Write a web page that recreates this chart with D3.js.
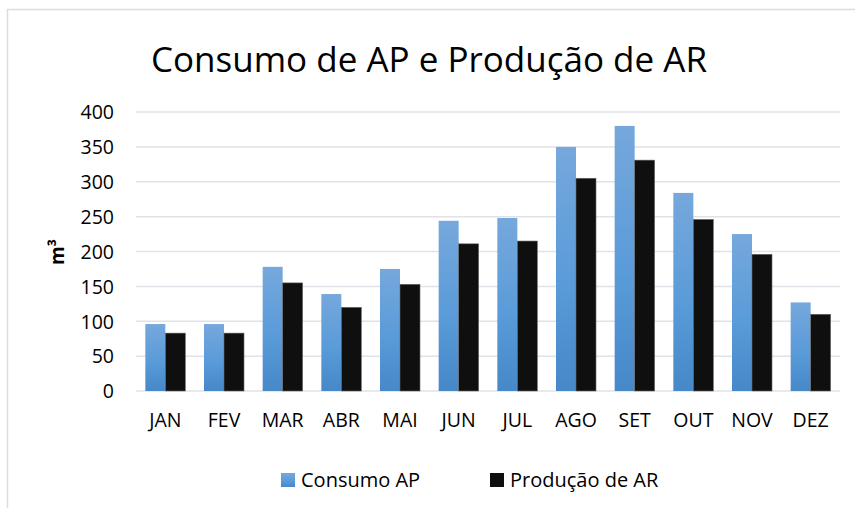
<!DOCTYPE html>
<html>
<head>
<meta charset="utf-8">
<script src="https://d3js.org/d3.v7.min.js"></script>
<style>
  body { margin: 0; background: #fff; }
  text { font-family: "Open Sans", "Noto Sans", sans-serif; fill: #000; }
</style>
</head>
<body>
<div id="chart"></div>
<script>
// data
var months = ["JAN","FEV","MAR","ABR","MAI","JUN","JUL","AGO","SET","OUT","NOV","DEZ"];
var consumoAP = [96, 96, 178, 139, 175, 244, 248, 350, 380, 284, 225, 127];
var producaoAR = [83, 83, 155, 120, 153, 211, 215, 305, 331, 246, 196, 110];
var yTicks = [0, 50, 100, 150, 200, 250, 300, 350, 400];
var seriesNames = ["Consumo AP", "Produção de AR"];

var W = 855, H = 508;
var plotLeft = 136, plotRight = 840, plotTop = 112, plotBottom = 391;

var svg = d3.select("#chart").append("svg")
    .attr("width", W)
    .attr("height", H);

// gradient for the blue bars
var defs = svg.append("defs");
var grad = defs.append("linearGradient")
    .attr("id", "blueGrad")
    .attr("x1", 0).attr("y1", 0).attr("x2", 0).attr("y2", 1);
grad.append("stop").attr("offset", "0%").attr("stop-color", "#76a8dc");
grad.append("stop").attr("offset", "55%").attr("stop-color", "#5a9bd9");
grad.append("stop").attr("offset", "100%").attr("stop-color", "#4688c8");

// chart frame (cut off at right and bottom)
svg.append("path")
    .attr("d", "M7.5," + H + " L7.5,9.5 L" + W + ",9.5")
    .style("fill", "none")
    .style("stroke", "#d9dde3")
    .style("stroke-width", 1.5);

var x = d3.scaleBand().domain(months).range([plotLeft, plotRight]);
var y = d3.scaleLinear().domain([0, 400]).range([plotBottom, plotTop]);
var barW = 20;

// gridlines
svg.selectAll("line.grid")
    .data(yTicks)
    .enter().append("line")
    .attr("class", "grid")
    .attr("x1", plotLeft).attr("x2", plotRight)
    .attr("y1", function(d){ return y(d); })
    .attr("y2", function(d){ return y(d); })
    .style("stroke", "#dfe2e8")
    .style("stroke-width", 1.5);

// y axis labels
var yAxis = d3.axisLeft(y).tickValues(yTicks).tickSize(0).tickPadding(0);
var yg = svg.append("g")
    .attr("transform", "translate(" + 114 + ",0)")
    .call(yAxis);
yg.select(".domain").remove();
yg.selectAll("text")
    .style("font-family", '"Open Sans", sans-serif')
    .style("font-size", "19.5px")
    .style("fill", "#000")
    .attr("dy", "0.35em");

// x axis labels
var xAxis = d3.axisBottom(x).tickSize(0).tickPadding(0);
var xg = svg.append("g")
    .attr("transform", "translate(0," + 413 + ")")
    .call(xAxis);
xg.select(".domain").remove();
xg.selectAll("text")
    .style("font-family", '"Open Sans", sans-serif')
    .style("font-size", "19.5px")
    .style("fill", "#000")
    .attr("dy", "0.71em");

// bars
svg.selectAll("rect.ap")
    .data(consumoAP)
    .enter().append("rect")
    .attr("class", "ap")
    .attr("x", function(d, i){ return x(months[i]) + x.bandwidth()/2 - barW; })
    .attr("y", function(d){ return y(d); })
    .attr("width", barW)
    .attr("height", function(d){ return y(0) - y(d); })
    .style("fill", "url(#blueGrad)");

svg.selectAll("rect.ar")
    .data(producaoAR)
    .enter().append("rect")
    .attr("class", "ar")
    .attr("x", function(d, i){ return x(months[i]) + x.bandwidth()/2; })
    .attr("y", function(d){ return y(d); })
    .attr("width", barW)
    .attr("height", function(d){ return y(0) - y(d); })
    .style("fill", "#0f0f0f")
    .style("stroke", "#6a6a6a")
    .style("stroke-width", 0.6);

// title
svg.append("text")
    .attr("x", 429)
    .attr("y", 72)
    .attr("text-anchor", "middle")
    .style("font-size", "35px")
    .text("Consumo de AP e Produção de AR");

// y title
svg.append("text")
    .attr("transform", "translate(64,252) rotate(-90)")
    .attr("text-anchor", "middle")
    .style("font-size", "19px")
    .style("font-weight", "bold")
    .text("m³");

// legend
var legendX = [281, 490];
var legendFill = ["url(#blueGrad)", "#0f0f0f"];
var lg = svg.selectAll("g.legend")
    .data(seriesNames)
    .enter().append("g")
    .attr("class", "legend")
    .attr("transform", function(d, i){ return "translate(" + legendX[i] + ",473)"; });
lg.append("rect")
    .attr("width", 14).attr("height", 14)
    .style("fill", function(d, i){ return legendFill[i]; });
lg.append("text")
    .attr("x", 20)
    .attr("y", 14)
    .style("font-size", "20px")
    .text(function(d){ return d; });
</script>
</body>
</html>
